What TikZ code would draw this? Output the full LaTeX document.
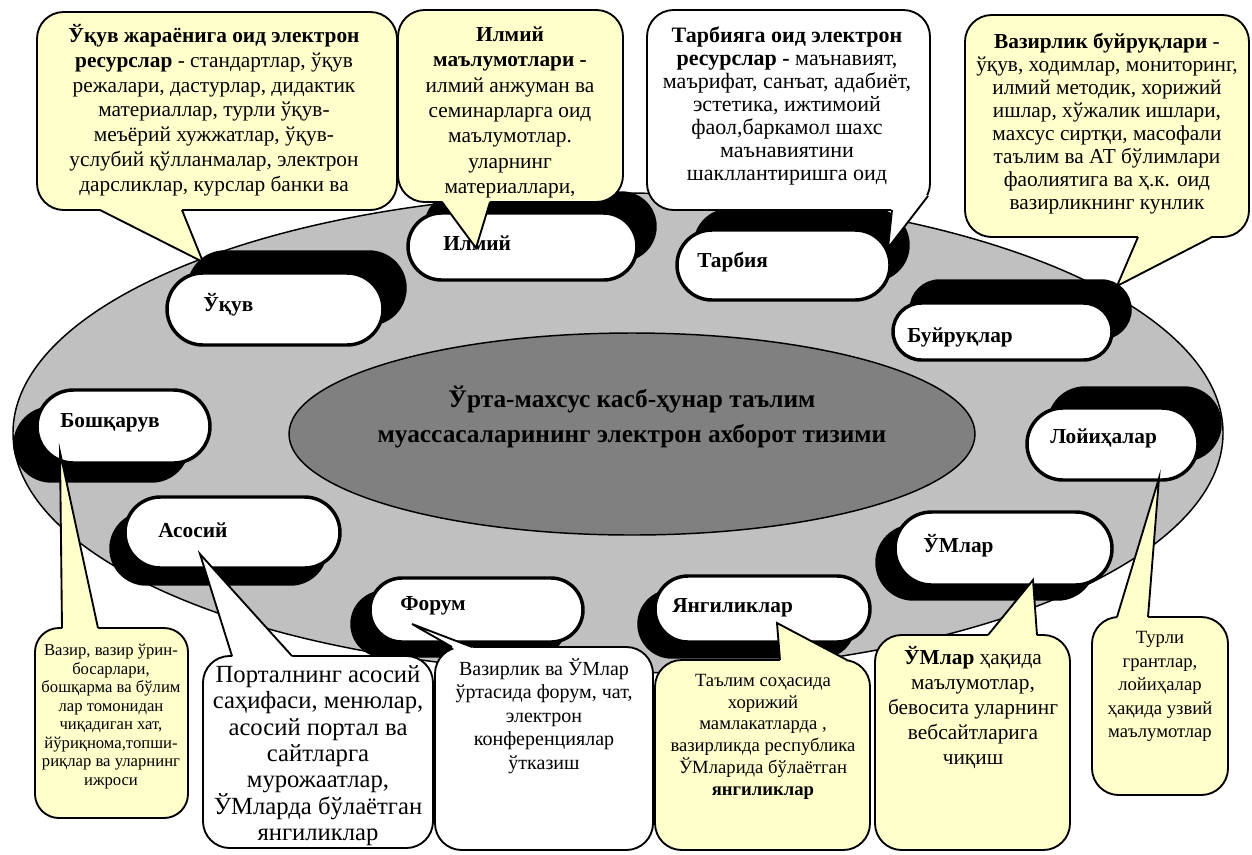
\documentclass[tikz,border=0pt]{standalone}
\usepackage{fontspec}
\setmainfont{Liberation Serif}
\usetikzlibrary{fit,shadows,shapes.geometric,shapes.misc}
\definecolor{yel}{HTML}{FFFFCC}
\definecolor{lgray}{HTML}{C0C0C0}
\definecolor{dgray}{HTML}{808080}
\newcommand{\myfs}[2]{\fontsize{#1}{#2}\selectfont}
\begin{document}
\begin{tikzpicture}[x=0.75pt,y=-0.75pt,
  pill/.style={draw=black, line width=2.6pt, fill=white, rounded rectangle, inner sep=0pt},
  sh/.style 2 args={general shadow={fill=black, draw=black, line width=2.6pt, shadow xshift=#1, shadow yshift=#2}},
  plabel/.style={font=\bfseries\myfs{16}{19}, anchor=base west, inner sep=0pt},
  callY/.style={draw=black, line width=1.4pt, fill=yel, rounded corners=20pt, inner sep=0pt},
  callW/.style={callY, fill=white},
  tailline/.style={draw=black, line width=1.4pt, line join=miter},
  ctext/.style={align=center, anchor=north, inner sep=0pt},
]
\useasboundingbox (0,0) rectangle (1252,854);
% ellipses
\node[draw=black, line width=1.1pt, fill=lgray, ellipse, inner sep=0pt, minimum width=907.5pt, minimum height=360pt] (outer) at (618,433) {};
\node[draw=black, line width=1.1pt, fill=dgray, ellipse, inner sep=0pt, minimum width=514.5pt, minimum height=151.5pt] (inner) at (632,434) {};
\node[ctext, font=\bfseries\myfs{19}{26.25}] (title) at (632,382.3) {\strut Ўрта-махсус касб-ҳунар таълим\\муассасаларининг электрон ахборот тизими};
% pills
\node[pill, sh={16.5pt}{15.75pt}, fit={(203,273) (347,345)}] (pUk) {};
\node[pill, sh={13.5pt}{15pt}, fit={(441.5,213) (603.5,280)}] (pIl) {};
\node[pill, sh={13.5pt}{15pt}, fit={(712,230) (855,300)}] (pTa) {};
\node[pill, sh={13.5pt}{16.5pt}, fit={(921.5,303) (1083.5,360)}] (pBu) {};
\node[pill, sh={16.5pt}{15pt}, fit={(1063,408) (1162,480)}] (pLo) {};
\node[pill, sh={-13.5pt}{-10.5pt}, fit={(931.5,512) (1075.5,585)}] (pUM) {};
\node[pill, sh={-12pt}{-11.25pt}, fit={(688,576) (837,642)}] (pYa) {};
\node[pill, sh={-13.5pt}{-10.5pt}, fit={(402,578) (551,642)}] (pFo) {};
\node[pill, sh={-10.5pt}{-12pt}, fit={(160.5,497) (304.5,568)}] (pAs) {};
\node[pill, sh={-16.5pt}{-13.5pt}, fit={(73.5,390) (173.5,463)}] (pBo) {};
\node[plabel] (lUk) at (203,311) {Ўқув};
\node[plabel] (lIl) at (443,250) {Илмий};
\node[plabel] (lTa) at (697,267) {Тарбия};
\node[plabel] (lBu) at (907,342) {Буйруқлар};
\node[plabel] (lLo) at (1050,443) {Лойиҳалар};
\node[plabel] (lUM) at (923,552) {ЎМлар};
\node[plabel] (lYa) at (672,612) {Янгиликлар};
\node[plabel] (lFo) at (400,610) {Форум};
\node[plabel] (lAs) at (158,537) {Асосий};
\node[plabel] (lBo) at (60,427) {Бошқарув};
% callout A
\node[callY, fit={(37,12) (397,210)}] (cA) {};
\coordinate (tA1) at (100,210); \coordinate (tA2) at (182,210); \coordinate (tipA) at (203,262);
\fill[yel] (tA1) -- (tipA) -- (tA2) -- (cA.center) -- cycle;
\draw[tailline] (tA1) -- (tipA) -- (tA2);
\node[ctext, font=\myfs{16}{18.6}] (xA) at (214,24) {\strut\textbf{Ўқув жараёнига оид электрон}\\\textbf{ресурслар} - стандартлар, ўқув\\режалари, дастурлар, дидактик\\материаллар, турли ўқув-\\меъёрий хужжатлар, ўқув-\\услубий қўлланмалар, электрон\\дарсликлар, курслар банки ва};
% callout B
\node[callY, fit={(398,10) (623,202)}] (cB) {};
\coordinate (tB1) at (442,202); \coordinate (tB2) at (490,202); \coordinate (tipB) at (476,248);
\fill[yel] (tB1) -- (tipB) -- (tB2) -- (cB.center) -- cycle;
\draw[tailline] (tB1) -- (tipB) -- (tB2);
\node[ctext, font=\myfs{16}{19}] (xB) at (510,23.5) {\strut\textbf{Илмий}\\\textbf{маълумотлари -}\\илмий анжуман ва\\семинарларга оид\\маълумотлар.\\уларнинг\\материаллари,};
% callout C
\node[callW, fit={(647,10) (930,210)}] (cC) {};
\coordinate (tC1) at (892,210); \coordinate (tC2) at (928,196); \coordinate (tipC) at (888,248);
\fill[white] (tC1) -- (tipC) -- (tC2) -- (cC.center) -- cycle;
\draw[tailline] (tC1) -- (tipC) -- (tC2);
\node[ctext, font=\myfs{16.5}{17.25}] (xC) at (787,26) {\strut\textbf{Тарбияга оид электрон}\\\textbf{ресурслар -} маънавият,\\маърифат, санъат, адабиёт,\\эстетика, ижтимоий\\фаол,баркамол шахс\\маънавиятини\\шакллантиришга оид};
% callout D
\node[callY, fit={(965,15) (1249,237)}] (cD) {};
\coordinate (tD1) at (1138,237); \coordinate (tD2) at (1212,237); \coordinate (tipD) at (1117,286);
\fill[yel] (tD1) -- (tipD) -- (tD2) -- (cD.center) -- cycle;
\draw[tailline] (tD1) -- (tipD) -- (tD2);
\node[ctext, font=\myfs{16}{17.25}] (xD) at (1107,32.5) {\strut\textbf{Вазирлик буйруқлари} -\\ўқув, ходимлар, мониторинг,\\илмий методик, хорижий\\ишлар, хўжалик ишлари,\\махсус сиртқи, масофали\\таълим ва АТ бўлимлари\\фаолиятига ва ҳ.к. оид\\вазирликнинг кунлик};
% callout E
\node[callY, rounded corners=18pt, fit={(35,628) (188,818)}] (cE) {};
\coordinate (tE1) at (62,628); \coordinate (tE2) at (98,628); \coordinate (tipE) at (60,452);
\fill[yel] (tE1) -- (tipE) -- (tE2) -- (cE.center) -- cycle;
\draw[tailline] (tE1) -- (tipE) -- (tE2);
\node[ctext, font=\myfs{12.5}{13.9}] (xE) at (111,642.5) {\strut Вазир, вазир ўрин-\\босарлари,\\бошқарма ва бўлим\\лар томонидан\\чиқадиган хат,\\йўриқнома,топши-\\риқлар ва уларнинг\\ижроси};
% callout F
\node[callW, fit={(203,656) (433,848)}] (cF) {};
\coordinate (tF1) at (232,656); \coordinate (tF2) at (292,656); \coordinate (tipF) at (200,554);
\fill[white] (tF1) -- (tipF) -- (tF2) -- (cF.center) -- cycle;
\draw[tailline] (tF1) -- (tipF) -- (tF2);
\node[ctext, font=\myfs{18.5}{19.7}] (xF) at (318,664) {\strut Порталнинг асосий\\саҳифаси, менюлар,\\асосий портал ва\\сайтларга\\мурожаатлар,\\ЎМларда бўлаётган\\янгиликлар};
% callout G
\node[callW, fit={(435,647) (653,850)}] (cG) {};
\coordinate (tG1) at (452,647); \coordinate (tG2) at (472,647); \coordinate (tipG) at (412,624);
\fill[white] (tG1) -- (tipG) -- (tG2) -- (cG.center) -- cycle;
\draw[tailline] (tG1) -- (tipG) -- (tG2);
\node[ctext, font=\myfs{15}{17.6}] (xG) at (544,658) {\strut Вазирлик ва ЎМлар\\ўртасида форум, чат,\\электрон\\конференциялар\\ўтказиш};
% callout H
\node[callY, fit={(655,660) (870,850)}] (cH) {};
\coordinate (tH1) at (780,660); \coordinate (tH2) at (847,660); \coordinate (tipH) at (777,623);
\fill[yel] (tH1) -- (tipH) -- (tH2) -- (cH.center) -- cycle;
\draw[tailline] (tH1) -- (tipH) -- (tH2);
\node[ctext, font=\myfs{14}{16.3}] (xH) at (763,671) {\strut Таълим соҳасида\\хорижий\\мамлакатларда ,\\вазирликда республика\\ЎМларида бўлаётган\\\textbf{янгиликлар}};
% callout I
\node[callY, fit={(875,635) (1070,850)}] (cI) {};
\coordinate (tI1) at (988,635); \coordinate (tI2) at (1037,635); \coordinate (tipI) at (1033,580);
\fill[yel] (tI1) -- (tipI) -- (tI2) -- (cI.center) -- cycle;
\draw[tailline] (tI1) -- (tipI) -- (tI2);
\node[ctext, font=\myfs{16}{18.75}] (xI) at (973,646.5) {\strut\textbf{ЎМлар} ҳақида\\маълумотлар,\\бевосита уларнинг\\вебсайтларига\\чиқиш};
\node[callY, fit={(1092,617) (1228,795)}] (cJ) {};
% callout J
\coordinate (tJ1) at (1117,617); \coordinate (tJ2) at (1148,617); \coordinate (tipJ) at (1159,478);
\fill[yel] (tJ1) -- (tipJ) -- (tJ2) -- (cJ.center) -- cycle;
\draw[tailline] (tJ1) -- (tipJ) -- (tJ2);
\node[ctext, font=\myfs{14}{17.6}] (xJ) at (1160,627) {\strut Турли\\грантлар,\\лойиҳалар\\ҳақида узвий\\маълумотлар};
\end{tikzpicture}
\end{document}
